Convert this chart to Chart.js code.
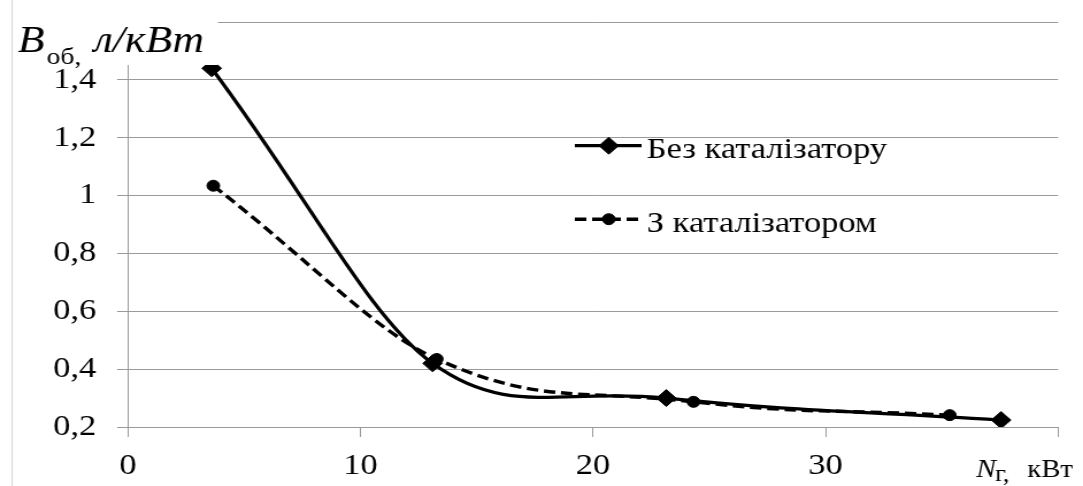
<!DOCTYPE html>
<html><head><meta charset="utf-8">
<script src="https://cdn.jsdelivr.net/npm/chart.js@4/dist/chart.umd.min.js"></script>
<style>
html,body{margin:0;padding:0;background:#fff;overflow:hidden;}
#wrap{width:942px;height:486px;transform:scaleX(1.1497);transform-origin:0 0;}
canvas{display:block;}
</style></head><body>
<div id="wrap"><canvas id="c" width="942" height="486"></canvas></div>
<script>
// ---- data ----
const seriesLabels = ['Без каталізатору', 'З каталізатором'];
const noCatX = [3.6, 13.1, 23.15, 37.55];
const noCatY = [1.44, 0.42, 0.30, 0.224];
const catX = [3.67, 13.28, 24.32, 35.34];
const catY = [1.034, 0.435, 0.287, 0.241];
const xTickLabels = ['0', '10', '20', '30', ''];
const yTickLabels = ['0,2', '0,4', '0,6', '0,8', '1', '1,2', '1,4', '1,6'];
const yTitleMain = 'B';
const yTitleSub = 'об,';
const yTitleRest = 'л/кВт';
const xTitleMain = 'N';
const xTitleSub = 'г,';
const xTitleRest = 'кВт';

const GRID = '#9a9a9a';
const SERIF = '"Liberation Serif", serif';
const HANDLE_SOFTEN = [0.5, 0.55];

// softens the incoming bezier handle of the 2nd point of each series (spreadsheet-like smoothing)
const smoothing = {
  id: 'smoothing',
  beforeDatasetDraw(chart, args) {
    const k = HANDLE_SOFTEN[args.index];
    if (k === undefined) return;
    const meta = args.meta;
    const line = meta.dataset;
    if (line && line.updateControlPoints) line.updateControlPoints(chart.chartArea, 'x');
    const p = meta.data[1];
    if (p && !p._softened && p.cp1x !== undefined) {
      p.cp1x = p.x + (p.cp1x - p.x) * k;
      p.cp1y = p.y + (p.cp1y - p.y) * k;
      p._softened = true;
    }
  }
};

const decor = {
  id: 'decor',
  beforeDraw(chart) {
    const ctx = chart.ctx;
    ctx.save();
    ctx.strokeStyle = '#d6d6d6';
    ctx.lineWidth = 1;
    ctx.beginPath();
    ctx.moveTo(10.5, 0); ctx.lineTo(10.5, chart.height);
    ctx.stroke();
    ctx.restore();
  },
  afterDatasetsDraw(chart) {
    const ctx = chart.ctx;
    ctx.save();
    ctx.fillStyle = '#fff';
    ctx.fillRect(11.5, 0, 178, 65);
    ctx.fillStyle = '#000';
    ctx.textBaseline = 'alphabetic';
    ctx.textAlign = 'left';
    ctx.font = 'italic 38px ' + SERIF;
    ctx.fillText(yTitleMain, 15.5, 51.7);
    ctx.font = '24px ' + SERIF;
    ctx.fillText(yTitleSub, 40.6, 64);
    ctx.font = 'italic 38px ' + SERIF;
    ctx.fillText(yTitleRest, 81.5, 51.7);
    ctx.font = 'italic 26px ' + SERIF;
    ctx.fillText(xTitleMain, 849, 477);
    ctx.font = '23px ' + SERIF;
    ctx.fillText(xTitleSub, 865.5, 481);
    ctx.font = '25px ' + SERIF;
    ctx.fillText(xTitleRest, 893.5, 477);
    chart.data.datasets.forEach((ds, i) => {
      const y = 145.7 + i * 73.5;
      ctx.save();
      ctx.strokeStyle = ds.borderColor;
      ctx.lineWidth = ds.borderWidth;
      ctx.setLineDash(ds.borderDash || []);
      ctx.beginPath();
      ctx.moveTo(500, y); ctx.lineTo(558, y);
      ctx.stroke();
      ctx.setLineDash([]);
      ctx.fillStyle = ds.pointBackgroundColor;
      ctx.strokeStyle = ds.pointBorderColor;
      ctx.lineWidth = ds.pointBorderWidth;
      Chart.helpers.drawPoint(ctx, {pointStyle: ds.pointStyle, radius: ds.pointRadius, borderWidth: ds.pointBorderWidth, rotation: 0}, 529.5, y);
      ctx.restore();
      ctx.fillStyle = '#000';
      ctx.font = '30px ' + SERIF;
      ctx.fillText(ds.label, 562.5, y + 12.3);
    });
    ctx.restore();
  }
};

function draw() {
  new Chart(document.getElementById('c'), {
    type: 'line',
    data: {
      datasets: [
        {
          label: seriesLabels[0],
          data: noCatX.map((x, i) => ({x: x, y: noCatY[i]})),
          borderColor: '#000', backgroundColor: '#000',
          pointBackgroundColor: '#000', pointBorderColor: '#000',
          borderWidth: 3.3, tension: 0.45,
          pointStyle: 'rectRot', pointRadius: 8.5, pointBorderWidth: 1,
          fill: false
        },
        {
          label: seriesLabels[1],
          data: catX.map((x, i) => ({x: x, y: catY[i]})),
          borderColor: '#000', backgroundColor: '#000',
          pointBackgroundColor: '#000', pointBorderColor: '#000',
          borderWidth: 3.4, tension: 0.45, borderDash: [10, 5],
          pointStyle: 'circle', pointRadius: 5.5, pointBorderWidth: 1,
          fill: false
        }
      ]
    },
    options: {
      responsive: false,
      devicePixelRatio: 1,
      animation: false,
      layout: {padding: {left: 0, right: 21.7, top: 22, bottom: 0}},
      plugins: {legend: {display: false}, tooltip: {enabled: false}},
      scales: {
        x: {
          type: 'linear', min: 0, max: 40,
          afterFit(s) { s.height = 59; s.paddingLeft = 0; s.paddingRight = 0; },
          grid: {drawOnChartArea: false, drawTicks: true, tickLength: 10, color: GRID, lineWidth: 1},
          border: {display: true, color: GRID, width: 1},
          ticks: {
            stepSize: 10, autoSkip: false, maxRotation: 0, padding: 11,
            color: '#000', font: {family: SERIF, size: 30},
            callback: (v, i) => xTickLabels[i]
          }
        },
        y: {
          min: 0.2, max: 1.6,
          afterFit(s) { s.width = 111.3; s.paddingTop = 0; s.paddingBottom = 0; },
          grid: {drawOnChartArea: true, drawTicks: true, tickLength: 9.5, color: GRID, lineWidth: 1},
          border: {display: true, color: GRID, width: 1},
          ticks: {
            stepSize: 0.2, autoSkip: false, padding: 18,
            color: '#000', font: {family: SERIF, size: 30},
            callback: (v, i) => yTickLabels[i]
          }
        }
      }
    },
    plugins: [smoothing, decor]
  });
}

let done = false;
function go() { if (!done) { done = true; draw(); } }
if (document.fonts && document.fonts.load) {
  Promise.all([
    document.fonts.load('30px "Liberation Serif"', 'Без 0,4'),
    document.fonts.load('italic 38px "Liberation Serif"', 'B л/кВт')
  ]).then(go, go);
  setTimeout(go, 1500);
} else { go(); }
</script>
</body></html>
